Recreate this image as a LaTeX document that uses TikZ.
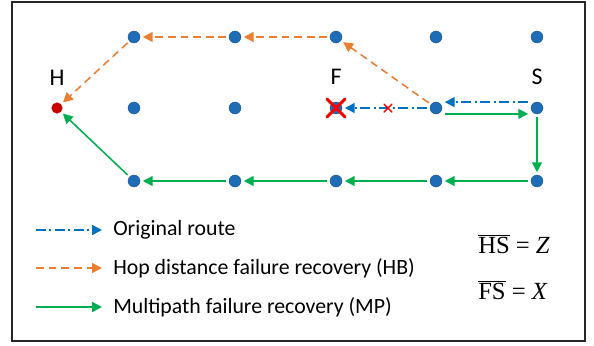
\documentclass[tikz,border=0pt]{standalone}
\usepackage{fontspec}
\setmainfont{Carlito}
\newfontfamily\eqfont{Liberation Serif}
\usetikzlibrary{positioning, arrows.meta}
\definecolor{dotblue}{RGB}{30,108,182}
\definecolor{routeblue}{RGB}{0,112,192}
\definecolor{hborange}{RGB}{237,125,49}
\definecolor{mpgreen}{RGB}{0,176,80}
\definecolor{homered}{RGB}{200,0,0}
\tikzset{dot/.style={circle, fill=dotblue, draw=dotblue!80!black, line width=0.3pt, minimum size=8.5pt, inner sep=0pt, outer sep=2pt}}
\tikzset{hdot/.style={dot, fill=homered, draw=homered, minimum size=7.5pt}}
\tikzset{lbl/.style={font=\fontsize{15.5}{18}\selectfont, inner sep=0pt}}
\tikzset{tag/.style={font=\fontsize{17}{20}\selectfont, inner sep=0pt}}
\tikzset{eqn/.style={font=\eqfont\fontsize{17.5}{20}\selectfont, inner sep=0pt, anchor=west}}
\tikzset{tip/.style={-{Triangle[length=7pt, width=7pt]}}}
\tikzset{orig/.style={draw=routeblue, line width=1.1pt, tip, dash pattern=on 7pt off 2.5pt on 1.5pt off 2.5pt}}
\tikzset{hb/.style={draw=hborange, line width=1.1pt, tip, dash pattern=on 5.5pt off 3.5pt}}
\tikzset{mp/.style={draw=mpgreen, line width=1.1pt, tip}}
\tikzset{cross/.style={draw=red, line cap=round}}
\begin{document}
\begin{tikzpicture}[x=0.025cm, y=-0.025cm]
  \useasboundingbox (0,0) rectangle (594,345);
  \draw[line width=1.2pt, black!85] (12,2) rectangle (585,341);
  % grid of sensor nodes
  \node[dot] (t1) at (134,37) {};
  \node[dot] (t2) at (235,37) {};
  \node[dot] (t3) at (336,37) {};
  \node[dot] (t4) at (436,37) {};
  \node[dot] (t5) at (537,37) {};
  \node[hdot] (H) at (57,108) {};
  \node[dot] (m1) at (134,108) {};
  \node[dot] (m2) at (235,108) {};
  \node[dot] (F) at (336,108) {};
  \node[dot] (m4) at (436,108) {};
  \node[dot] (S) at (537,108) {};
  \node[dot] (b1) at (134,181) {};
  \node[dot] (b2) at (235,181) {};
  \node[dot] (b3) at (336,181) {};
  \node[dot] (b4) at (436,181) {};
  \node[dot] (b5) at (537,181) {};
  \node[tag, above=0.35cm of H] (Hl) {H};
  \node[tag, above=0.35cm of F] (Fl) {F};
  \node[tag, above=0.35cm of S] (Sl) {S};
  % original route
  \draw[orig] ([yshift=4.2pt]S.west) -- ([yshift=4.2pt]m4.east);
  \draw[orig] (m4) -- (F);
  \draw[cross, line width=2.2pt] (327,99) -- (345,117) (345,99) -- (327,117);
  \draw[cross, line width=1pt] (384,104) -- (392,112) (392,104) -- (384,112);
  % hop distance recovery
  \draw[hb] (m4) -- (t3);
  \draw[hb] (t3) -- (t2);
  \draw[hb] (t2) -- (t1);
  \draw[hb] (t1) -- (H);
  % multipath recovery
  \draw[mp] ([yshift=-4.2pt]m4.east) -- ([yshift=-4.2pt]S.west);
  \draw[mp] (S) -- (b5);
  \draw[mp] (b5) -- (b4);
  \draw[mp] (b4) -- (b3);
  \draw[mp] (b3) -- (b2);
  \draw[mp] (b2) -- (b1);
  \draw[mp] (b1) -- (H);
  % legend
  \coordinate (o1) at (36,230);
  \coordinate (o2) at (102,230);
  \coordinate (h1) at (36,268);
  \coordinate (h2) at (102,268);
  \coordinate (p1) at (36,307);
  \coordinate (p2) at (102,307);
  \draw[orig] (o1) -- (o2);
  \draw[hb] (h1) -- (h2);
  \draw[mp] (p1) -- (p2);
  \node[lbl, anchor=west] (ot) at (113,230) {Original route};
  \node[lbl, anchor=west] (ht) at (113,268) {Hop distance failure recovery (HB)};
  \node[lbl, anchor=west] (pt) at (113,307) {Multipath failure recovery (MP)};
  \node[eqn] (eq1) at (478,244) {$\overline{\mbox{HS}}$ = \textit{Z}};
  \node[eqn] (eq2) at (478,290) {$\overline{\mbox{FS}}$ = \textit{X}};
\end{tikzpicture}
\end{document}
